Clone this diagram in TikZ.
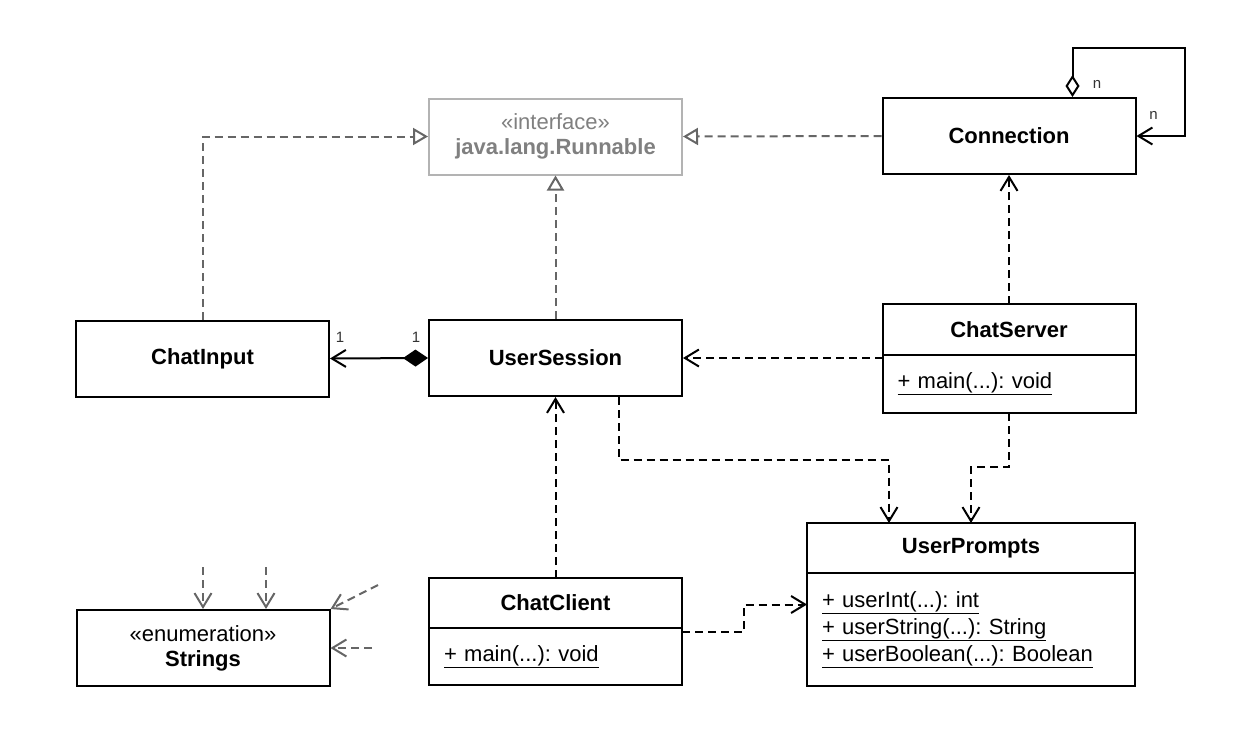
\documentclass[tikz,border=0pt]{standalone}
\usepackage{fontspec}
\setmainfont{Liberation Sans}
\frenchspacing
\usetikzlibrary{arrows.meta,calc}
\definecolor{linegray}{HTML}{666666}
\definecolor{boxgray}{HTML}{B3B3B3}
\definecolor{textgray}{HTML}{808080}

\begin{document}
\begin{tikzpicture}[x=1pt,y=-1pt,line width=2pt,
    font=\fontsize{22}{25}\selectfont,
    uml/.style={draw,fill=white,inner sep=0pt,minimum width=253pt,
      minimum height=76pt,align=center},
    head/.style={uml,outer sep=0pt,minimum height=#1},
    body/.style 2 args={uml,outer sep=0pt,minimum height=#1,text width=#2,
      align=left,inner xsep=15pt},
    realize/.style={draw=linegray,dash pattern=on 8pt off 5pt,
      -{Triangle[open,length=15pt,width=17pt]}},
    dep/.style={dash pattern=on 8pt off 5pt,
      -{Straight Barb[length=14pt,width=17pt]}},
    enumuse/.style={dep,draw=linegray},
    comp/.style={{Diamond[length=25pt,width=17pt]}-{Straight Barb[length=14pt,width=17pt]}},
    agg/.style={{Diamond[open,length=22pt,width=14pt]}-{Straight Barb[length=14pt,width=17pt]}},
    mult/.style={font=\fontsize{15}{17}\selectfont,text=black!80,inner sep=0pt}]
    \useasboundingbox (0,0) rectangle (1242,734); % margini

    % classi
    \node[uml,draw=boxgray,text=textgray] (run) at (555.5,136.5)
      {«interface»\\\textbf{java.lang.Runnable}}; % interfaccia
    \node[uml] (conn) at (1009,136) {\textbf{Connection}};
    \node[uml] (input) at (202.5,358.5) {\textbf{ChatInput}};
    \node[uml] (session) at (555.5,358) {\textbf{UserSession}};
    \node[head=51pt] (server) at (1009,329.5) {\textbf{ChatServer}};
    \node[body={58pt}{223pt},anchor=north] (srvbody) at (server.south)
      {\underline{+ main(...): void}};
    \node[head=50pt,minimum width=328pt] (prompts) at (971,548) {\textbf{UserPrompts}};
    \node[body={113pt}{298pt},anchor=north,font=\fontsize{22}{27}\selectfont]
      (prbody) at (prompts.south)
      {\underline{+ userInt(...): int}\\\underline{+ userString(...): String}\\
       \underline{+ userBoolean(...): Boolean}};
    \node[head=50pt] (client) at (555.5,603) {\textbf{ChatClient}};
    \node[body={57pt}{223pt},anchor=north] (clbody) at (client.south)
      {\underline{+ main(...): void}};
    \node[uml] (strings) at (203,648) {«enumeration»\\\textbf{Strings}}; % enum

    % realizzazioni
    \draw[realize] (input.north) |- (run.west);
    \draw[realize] (session.north) -- (run.south);
    \draw[realize] (conn.west) -- (run.east);

    % composizione e aggregazione
    \draw[comp] (session.west) -- (input.east);
    \node[mult] (m1) at ($(input.east)+(10,-21)$) {1};
    \node[mult] (m2) at ($(session.west)+(-12,-21)$) {1};
    \coordinate (loop) at (1185,48); % angolo del ciclo
    \draw[agg] ([xshift=63.5pt]conn.north) |- (loop) |- (conn.east);
    \node[mult] (n1) at ($(conn.north)+(88,-13)$) {n};
    \node[mult] (n2) at ($(conn.east)+(17,-21)$) {n};

    % dipendenze
    \draw[dep] (server.north) -- (conn.south);
    \draw[dep] (session.east -| server.west) -- (session.east);
    \draw[dep] (srvbody.south) -- ++(0,54) -| (prompts.north);
    \draw[dep] ([xshift=63pt]session.south) -- ++(0,63) -| ([xshift=-82pt]prompts.north);
    \draw[dep] (client.north) -- (session.south);
    \draw[dep] ([yshift=-4pt]clbody.north east) -- ++(62,0)
      |- ([yshift=-31.5pt]prbody.north west);

    % usi di Strings
    \coordinate (u1) at (203,567);
    \coordinate (u2) at (266,567);
    \coordinate (u3) at (378,585);
    \coordinate (u4) at (372,648);
    \draw[enumuse] (u1) -- (strings.north);
    \draw[enumuse] (u2) -- (u2 |- strings.north);
    \draw[enumuse] (u3) -- (strings.north east);
    \draw[enumuse] (u4) -- (strings.east);
\end{tikzpicture}
\end{document}
